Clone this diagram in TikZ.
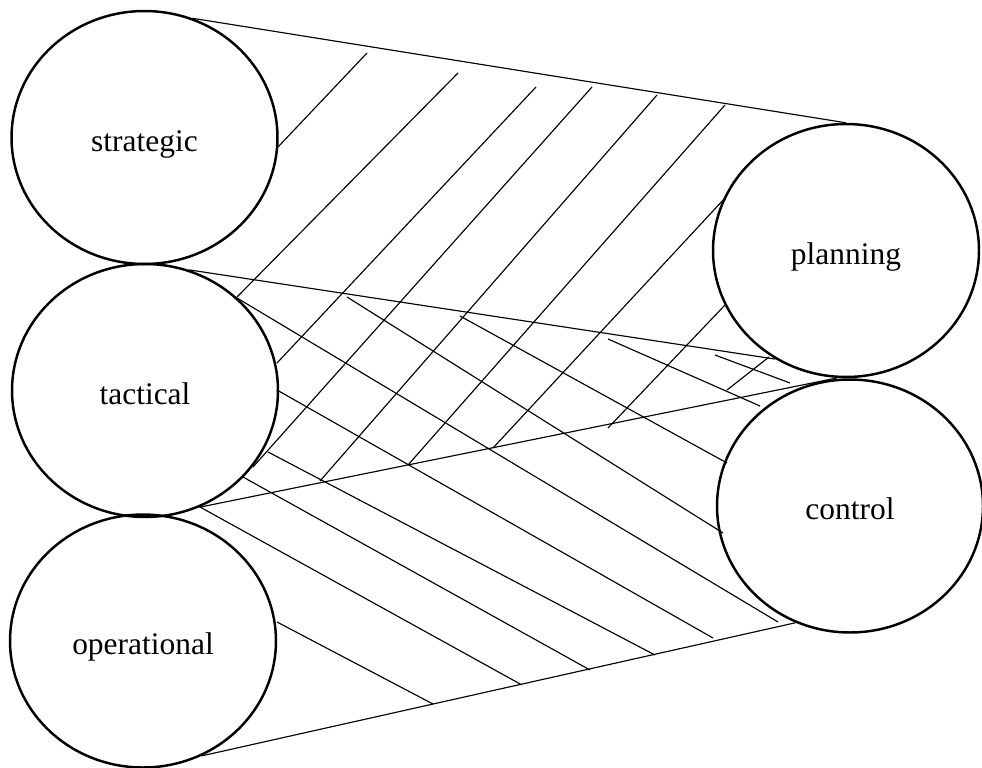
\documentclass[tikz,border=0pt]{standalone}
\usepackage{fontspec}
\setmainfont{Liberation Serif}
\usetikzlibrary{shapes.geometric}
\tikzset{
  level/.style={draw, ellipse, line width=1.4pt, minimum width=5.32cm, minimum height=5.06cm, inner sep=0pt, text height=15.5pt, text depth=0pt, font=\fontsize{17.9pt}{21pt}\selectfont},
  link/.style={line width=0.65pt},
  hatch/.style={line width=0.65pt}
}
\begin{document}
\begin{tikzpicture}[x=0.02cm,y=-0.02cm]
\useasboundingbox (0,0) rectangle (982,767);
\node[level] (strategic) at (144.5,137.5) {strategic};
\node[level] (tactical) at (145,390.5) {tactical};
\node[level] (operational) at (143,641) {operational};
\node[level] (planning) at (846,250.5) {planning};
\node[level] (control) at (850,506) {control};
% band edges
\draw[link] (strategic.68) -- (planning.north);
\draw[link] (tactical.70) -- (planning.237);
\draw[link] (tactical.295) -- (planning.266);
\draw[link] (operational.297) -- (control.245);
% hatching towards planning
\draw[hatch] (278,147) -- (367,53);
\draw[hatch] (237,297) -- (458,73);
\draw[hatch] (277,363) -- (536,87);
\draw[hatch] (253,467) -- (592,87);
\draw[hatch] (320,481) -- (657,95);
\draw[hatch] (408,465) -- (725,105);
\draw[hatch] (493,448) -- (725,198);
\draw[hatch] (608,428) -- (725,305);
\draw[hatch] (727,390) -- (769,357);
% hatching towards control
\draw[hatch] (237,298) -- (778,622);
\draw[hatch] (347,297) -- (723,533);
\draw[hatch] (460,316) -- (727,463);
\draw[hatch] (608,339) -- (760,406);
\draw[hatch] (715,355) -- (790,383);
\draw[hatch] (277,390) -- (713,638);
\draw[hatch] (268,452) -- (655,655);
\draw[hatch] (243,477) -- (590,670);
\draw[hatch] (200,507) -- (522,685);
\draw[hatch] (277,622) -- (433,704);
\end{tikzpicture}
\end{document}
